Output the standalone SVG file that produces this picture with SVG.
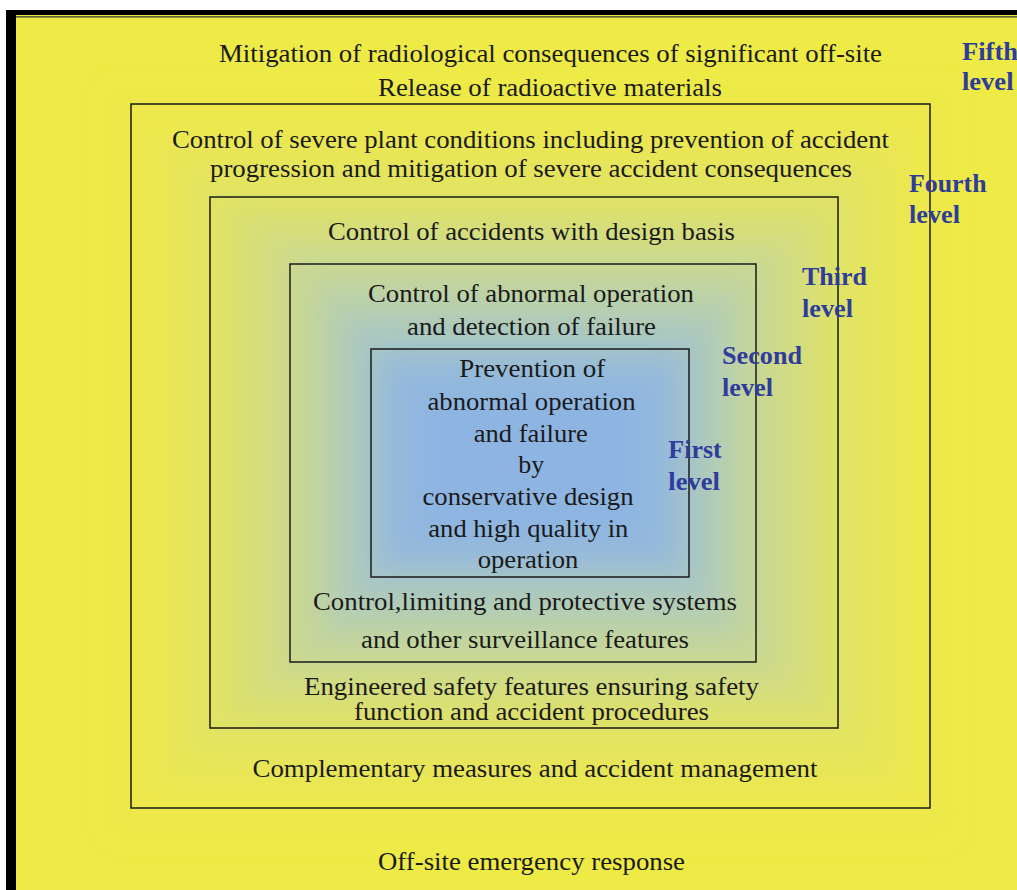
<svg xmlns="http://www.w3.org/2000/svg" width="1017" height="890" viewBox="0 0 1017 890">
<style>
.t{font-family:"Liberation Serif","Times New Roman",serif;font-size:25px;fill:#1a1a1a;text-anchor:middle}
.lv{font-family:"Liberation Serif","Times New Roman",serif;font-size:25px;font-weight:bold;fill:#2f3c9c}
.box{fill:none;stroke:#1a1a1a;stroke-width:1.5}
</style>
<defs>
<filter id="blur" x="-20%" y="-20%" width="140%" height="140%"><feGaussianBlur stdDeviation="12"/></filter>
</defs>
<rect x="0" y="0" width="1017" height="890" fill="#ffffff"/>
<rect x="6" y="10" width="1011" height="880" fill="#EEEA46"/>
<g filter="url(#blur)">
<rect x="110" y="90" width="840" height="744" fill="#EDE94A"/>
<rect x="130" y="110" width="800" height="704" fill="#ECE84E"/>
<rect x="159" y="139" width="742" height="646" fill="#E8E657"/>
<rect x="188" y="168" width="684" height="588" fill="#E3E461"/>
<rect x="216" y="197" width="628" height="530" fill="#DDE16B"/>
<rect x="243" y="219" width="574" height="486" fill="#D6DE7A"/>
<rect x="270" y="241" width="520" height="442" fill="#CEDA8A"/>
<rect x="297" y="263" width="466" height="398" fill="#C4D69A"/>
<rect x="322" y="291" width="416" height="342" fill="#B8CFAE"/>
<rect x="346" y="320" width="368" height="284" fill="#ABC8C0"/>
<rect x="371" y="348" width="318" height="228" fill="#9CBFD2"/>
<rect x="390" y="367" width="280" height="190" fill="#93B8DD"/>
<rect x="420" y="392" width="220" height="140" fill="#8EB5E2"/>
</g>
<rect x="6" y="10" width="1011" height="5" fill="#000"/>
<rect x="6" y="10" width="10" height="880" fill="#000"/>
<line x1="16" y1="16.8" x2="1017" y2="16.8" stroke="#333" stroke-width="1.2"/>

<g id="level5">
<text class="t" x="550.5" y="61.5" textLength="663" lengthAdjust="spacingAndGlyphs">Mitigation of radiological consequences of significant off-site</text>
<text class="t" x="550" y="95.5" textLength="344" lengthAdjust="spacingAndGlyphs">Release of radioactive materials</text>
<text class="t" x="531.5" y="870" textLength="307" lengthAdjust="spacingAndGlyphs">Off-site emergency response</text>
<text class="lv" x="962" y="60" textLength="56" lengthAdjust="spacingAndGlyphs">Fifth</text>
<text class="lv" x="962" y="90" textLength="51.5" lengthAdjust="spacingAndGlyphs">level</text>
</g>
<g id="level4">
<rect class="box" x="131" y="104" width="799" height="704"/>
<text class="t" x="530.5" y="148" textLength="717" lengthAdjust="spacingAndGlyphs">Control of severe plant conditions including prevention of accident</text>
<text class="t" x="531" y="177" textLength="642" lengthAdjust="spacingAndGlyphs">progression and mitigation of severe accident consequences</text>
<text class="t" x="535" y="777" textLength="565" lengthAdjust="spacingAndGlyphs">Complementary measures and accident management</text>
<text class="lv" x="909" y="191.5" textLength="77.5" lengthAdjust="spacingAndGlyphs">Fourth</text>
<text class="lv" x="909" y="223" textLength="51" lengthAdjust="spacingAndGlyphs">level</text>
</g>
<g id="level3">
<rect class="box" x="210" y="197" width="628" height="531"/>
<text class="t" x="531.5" y="240" textLength="407" lengthAdjust="spacingAndGlyphs">Control of accidents with design basis</text>
<text class="t" x="531.5" y="695" textLength="455" lengthAdjust="spacingAndGlyphs">Engineered safety features ensuring safety</text>
<text class="t" x="531.5" y="720" textLength="355" lengthAdjust="spacingAndGlyphs">function and accident procedures</text>
<text class="lv" x="802" y="285" textLength="65" lengthAdjust="spacingAndGlyphs">Third</text>
<text class="lv" x="802" y="316.7" textLength="51" lengthAdjust="spacingAndGlyphs">level</text>
</g>
<g id="level2">
<rect class="box" x="290" y="264" width="466" height="398"/>
<text class="t" x="531" y="301.5" textLength="326" lengthAdjust="spacingAndGlyphs">Control of abnormal operation</text>
<text class="t" x="531.5" y="335" textLength="249" lengthAdjust="spacingAndGlyphs">and detection of failure</text>
<text class="t" x="525" y="610" textLength="424" lengthAdjust="spacingAndGlyphs">Control,limiting and protective systems</text>
<text class="t" x="525" y="648" textLength="328" lengthAdjust="spacingAndGlyphs">and other surveillance features</text>
<text class="lv" x="722" y="364" textLength="80" lengthAdjust="spacingAndGlyphs">Second</text>
<text class="lv" x="722" y="396" textLength="51" lengthAdjust="spacingAndGlyphs">level</text>
</g>
<g id="level1">
<rect class="box" x="371" y="349" width="318" height="228"/>
<text class="t" x="532.2" y="376.7" textLength="146" lengthAdjust="spacingAndGlyphs">Prevention of</text>
<text class="t" x="531.5" y="410" textLength="208" lengthAdjust="spacingAndGlyphs">abnormal operation</text>
<text class="t" x="530.8" y="441.7" textLength="114" lengthAdjust="spacingAndGlyphs">and failure</text>
<text class="t" x="531.3" y="473.3" textLength="26" lengthAdjust="spacingAndGlyphs">by</text>
<text class="t" x="528" y="505" textLength="211" lengthAdjust="spacingAndGlyphs">conservative design</text>
<text class="t" x="528.3" y="536.7" textLength="200" lengthAdjust="spacingAndGlyphs">and high quality in</text>
<text class="t" x="528" y="568.3" textLength="100.5" lengthAdjust="spacingAndGlyphs">operation</text>
<text class="lv" x="668.3" y="458.3" textLength="53.4" lengthAdjust="spacingAndGlyphs">First</text>
<text class="lv" x="668.3" y="490" textLength="51.7" lengthAdjust="spacingAndGlyphs">level</text>
</g>
</svg>
